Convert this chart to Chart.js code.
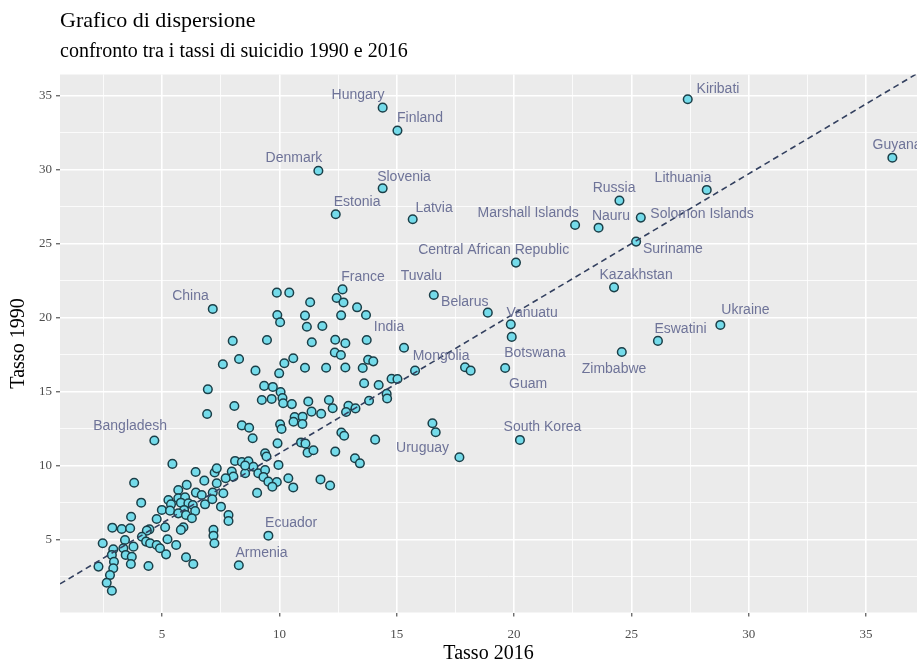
<!DOCTYPE html>
<html>
<head>
<meta charset="utf-8">
<script src="https://cdn.jsdelivr.net/npm/chart.js@4.4.1/dist/chart.umd.min.js"></script>
<style>
    html, body { margin: 0; padding: 0; background: #fff; overflow: hidden; }
    #wrap { width: 917px; height: 666px; }
</style>
</head>
<body>
<div id="wrap"><canvas id="scatter"></canvas></div>
<script>

// labelled countries: suicide rate 2016 / 1990
const countries = ['Hungary', 'Finland', 'Kiribati', 'Guyana', 'Denmark', 'Slovenia', 'Estonia', 'Latvia',
    'Marshall Islands', 'Nauru', 'Russia', 'Solomon Islands', 'Lithuania', 'Suriname', 'Central African Republic',
    'Kazakhstan', 'France', 'Tuvalu', 'Belarus', 'Vanuatu', 'Botswana', 'Guam', 'China', 'India', 'Mongolia',
    'Zimbabwe', 'Eswatini', 'Ukraine', 'South Korea', 'Uruguay', 'Bangladesh', 'Ecuador', 'Armenia'];
const countries2016 = [14.40, 15.03, 27.40, 36.12, 11.66, 14.40, 12.40, 15.68,
    22.60, 23.60, 24.49, 25.40, 28.21, 25.20, 20.08,
    24.26, 12.69, 16.58, 18.88, 19.86, 19.90, 19.62, 7.16, 15.31, 15.78,
    24.59, 26.13, 28.79, 20.25, 17.67, 4.67, 9.53, 8.27];
const countries1990 = [34.21, 32.66, 34.78, 30.83, 29.95, 28.76, 27.01, 26.67,
    26.28, 26.10, 27.93, 26.78, 28.65, 25.16, 23.74,
    22.07, 21.93, 21.55, 20.36, 19.57, 18.72, 16.62, 20.61, 17.99, 16.44,
    17.70, 18.45, 19.53, 11.76, 10.59, 11.72, 5.29, 3.29];

// where ggrepel put each label (data units)
const labelX = [13.35, 15.99, 28.69, 36.32, 10.62, 15.31, 13.31, 16.59,
    20.60, 24.13, 24.26, 28.01, 27.20, 26.77, 19.13,
    25.20, 13.56, 16.05, 17.90, 20.77, 20.89, 20.60, 6.21, 14.67, 16.89,
    24.26, 27.09, 29.86, 21.21, 16.10, 3.64, 10.50, 9.24];
const labelY = [35.07, 33.51, 35.47, 31.69, 30.81, 29.53, 27.84, 27.43,
    27.10, 26.85, 28.78, 27.03, 29.48, 24.64, 24.55,
    22.91, 22.75, 22.84, 21.06, 20.36, 17.62, 15.52, 21.49, 19.35, 17.43,
    16.57, 19.24, 20.54, 12.62, 11.20, 12.66, 6.13, 4.10];

// all the other countries
const other2016 = [9.89, 10.42, 12.44, 12.73, 11.31, 13.31, 9.91, 10.03, 11.09, 12.63, 13.69, 11.17, 11.83,
    8.01, 9.47, 11.38, 12.38, 12.81, 13.72, 12.36, 12.62, 13.78, 14.00, 8.28, 7.59, 10.21, 10.59,
    8.98, 9.99, 11.09, 11.99, 12.81, 13.55, 13.61, 14.23, 14.78, 15.03, 9.35, 9.72, 10.05, 10.13,
    6.95, 9.25, 9.67, 10.16, 10.53, 11.23, 12.11, 8.08, 11.37, 11.78, 12.27, 12.94, 13.24, 12.84,
    14.57, 14.59, 13.82, 6.92, 10.65, 10.60, 10.99, 10.98, 8.40, 8.71, 8.86, 10.03, 10.09, 12.64,
    12.76, 9.92, 10.92, 11.11, 11.20, 11.45, 12.38, 9.39, 9.45, 13.22, 13.43, 14.08, 16.52, 16.66,
    17.91, 18.15,
    5.44, 8.11, 8.40, 8.68, 8.89, 6.43, 7.24, 7.33, 7.97, 8.04, 8.54, 8.54, 6.80, 7.71, 3.81, 6.05,
    5.69, 7.33, 7.16, 6.44, 6.69, 7.61, 5.27, 5.69, 5.98, 5.38, 5.80, 6.12, 6.31, 6.83, 7.14, 4.11,
    4.99, 5.34, 5.94, 6.41, 7.51, 5.69, 6.02, 6.27, 3.68, 4.77, 4.46, 5.13, 7.83, 7.83, 2.88, 3.28,
    3.64, 4.35, 4.14, 4.32, 5.91, 5.80, 7.19, 7.19, 7.23, 5.23, 5.60, 3.42, 3.78, 4.49, 4.77, 4.91,
    5.17, 2.47, 2.92, 2.86, 2.95, 2.92, 3.35, 3.45, 3.71, 3.67, 6.02, 6.33, 4.42, 2.29, 2.78, 2.64,
    2.86,
    9.10, 9.39, 9.32, 9.53, 9.89, 9.70, 10.38, 10.59, 11.75, 12.16, 9.05, 9.96];
const other1990 = [21.71, 21.71, 21.35, 21.05, 21.06, 20.72, 20.20, 19.71, 20.16, 20.18, 20.20, 19.41, 19.46,
    18.45, 18.51, 18.36, 18.53, 18.29, 18.51, 17.67, 17.50, 17.18, 17.07, 17.23, 16.87, 16.94, 17.28,
    16.44, 16.26, 16.64, 16.64, 16.65, 16.62, 15.59, 15.47, 15.89, 15.88, 15.41, 15.34, 15.00, 14.59,
    15.18, 14.46, 14.53, 14.24, 14.18, 14.36, 14.46, 14.05, 13.67, 13.53, 13.90, 14.07, 13.89, 13.65,
    14.87, 14.56, 14.41, 13.51, 13.31, 12.99, 13.33, 12.84, 12.74, 12.58, 11.87, 12.82, 12.50, 12.26,
    12.04, 11.53, 11.59, 11.51, 10.90, 11.06, 10.97, 10.86, 10.64, 10.52, 10.18, 11.78, 12.89, 12.28,
    16.67, 16.44,
    10.14, 10.34, 10.27, 10.32, 9.95, 9.59, 9.56, 9.84, 9.62, 9.28, 9.51, 10.03, 9.01, 9.17, 8.87, 8.72,
    8.38, 8.83, 8.20, 8.20, 8.04, 8.16, 7.70, 7.82, 7.89, 7.41, 7.52, 7.48, 7.36, 7.41, 7.75, 7.52,
    7.03, 6.98, 7.03, 6.96, 7.25, 6.80, 6.69, 6.47, 6.57, 6.42, 5.72, 5.86, 6.69, 6.28, 5.83, 5.74,
    5.79, 5.63, 5.22, 4.89, 5.86, 5.68, 5.68, 5.29, 4.78, 5.05, 4.66, 5.00, 4.55, 4.78, 4.66, 4.44,
    4.03, 4.78, 4.37, 3.99, 3.53, 3.09, 4.44, 3.99, 3.87, 3.38, 3.83, 3.38, 3.24, 3.20, 2.63, 2.11,
    1.57,
    9.51, 9.73, 9.26, 8.94, 8.92, 8.60, 9.17, 8.55, 9.09, 8.68, 8.18, 10.07];

// dashed trend line, read at both edges of the panel
const fitX = [0.65, 37.17];
const fitY = [2.03, 36.51];

const xTicks = [5, 10, 15, 20, 25, 30, 35];
const yTicks = [5, 10, 15, 20, 25, 30, 35];

const points = countries2016.map((v, i) => ({x: v, y: countries1990[i]}))
    .concat(other2016.map((v, i) => ({x: v, y: other1990[i]})));

const serif = '"Liberation Serif", "Times New Roman", serif';

const panelBg = {
    id: 'panelBg',
    beforeDraw(chart) {
        const {ctx, chartArea: a} = chart;
        ctx.save();
        ctx.fillStyle = '#EBEBEB';
        ctx.fillRect(a.left, a.top, a.right - a.left, a.bottom - a.top);
        ctx.restore();
    }
};

const countryLabels = {
    id: 'countryLabels',
    afterDatasetsDraw(chart) {
        const {ctx, scales: {x, y}} = chart;
        ctx.save();
        ctx.font = '14px "Liberation Sans", Arial, sans-serif';
        ctx.fillStyle = '#6E7398';
        ctx.textAlign = 'center';
        ctx.textBaseline = 'middle';
        countries.forEach((name, i) => {
            ctx.fillText(name, x.getPixelForValue(labelX[i]), y.getPixelForValue(labelY[i]));
        });
        ctx.restore();
    }
};

const isMajor = (v, list) => list.includes(v);

const axis = (min, max, list, title, fit) => ({
    type: 'linear',
    min: min,
    max: max,
    afterFit: fit,
    border: {display: false},
    grid: {
        color: '#FFFFFF',
        lineWidth: c => isMajor(c.tick.value, list) ? 1.6 : 0.8,
        tickColor: c => isMajor(c.tick.value, list) ? '#333333' : 'rgba(0,0,0,0)',
        tickLength: 4,
        tickWidth: 1
    },
    ticks: {
        stepSize: 2.5,
        includeBounds: false,
        autoSkip: false,
        maxRotation: 0,
        padding: 4,
        color: '#4D4D4D',
        font: {family: serif, size: 13},
        callback: v => isMajor(v, list) ? String(v) : ''
    },
    title: {
        display: true,
        text: title,
        color: '#000',
        font: {family: serif, size: 20}
    }
});

const xAxis = axis(0.65, 37.17, xTicks, 'Tasso 2016', s => { s.height = 53.5; });
xAxis.ticks.padding = 10;
xAxis.title.padding = {top: 0, bottom: 0};

const yAxis = axis(0.1, 36.45, yTicks, 'Tasso 1990', s => { s.width = 60; });
yAxis.title.padding = {top: 7, bottom: 0};

new Chart(document.getElementById('scatter').getContext('2d'), {
    type: 'scatter',
    data: {
        datasets: [{
            type: 'line',
            data: fitX.map((v, i) => ({x: v, y: fitY[i]})),
            borderColor: '#33405F',
            borderWidth: 1.6,
            borderDash: [6, 4],
            pointRadius: 0,
            fill: false
        }, {
            data: points,
            pointRadius: 4.3,
            pointBackgroundColor: '#74DBEA',
            pointBorderColor: '#1B3F48',
            pointBorderWidth: 1.5
        }]
    },
    options: {
        responsive: true,
        maintainAspectRatio: false,
        animation: false,
        layout: {autoPadding: false, padding: 0},
        scales: {x: xAxis, y: yAxis},
        plugins: {
            legend: {display: false},
            tooltip: {enabled: false},
            title: {
                display: true,
                text: 'Grafico di dispersione',
                align: 'start',
                fullSize: false,
                color: '#000',
                font: {family: serif, size: 22, weight: 'normal'},
                padding: {top: 8, bottom: 5}
            },
            subtitle: {
                display: true,
                text: 'confronto tra i tassi di suicidio 1990 e 2016',
                align: 'start',
                fullSize: false,
                color: '#000',
                font: {family: serif, size: 20},
                padding: {top: 0, bottom: 11.1}
            }
        }
    },
    plugins: [panelBg, countryLabels]
});

</script>
</body>
</html>
